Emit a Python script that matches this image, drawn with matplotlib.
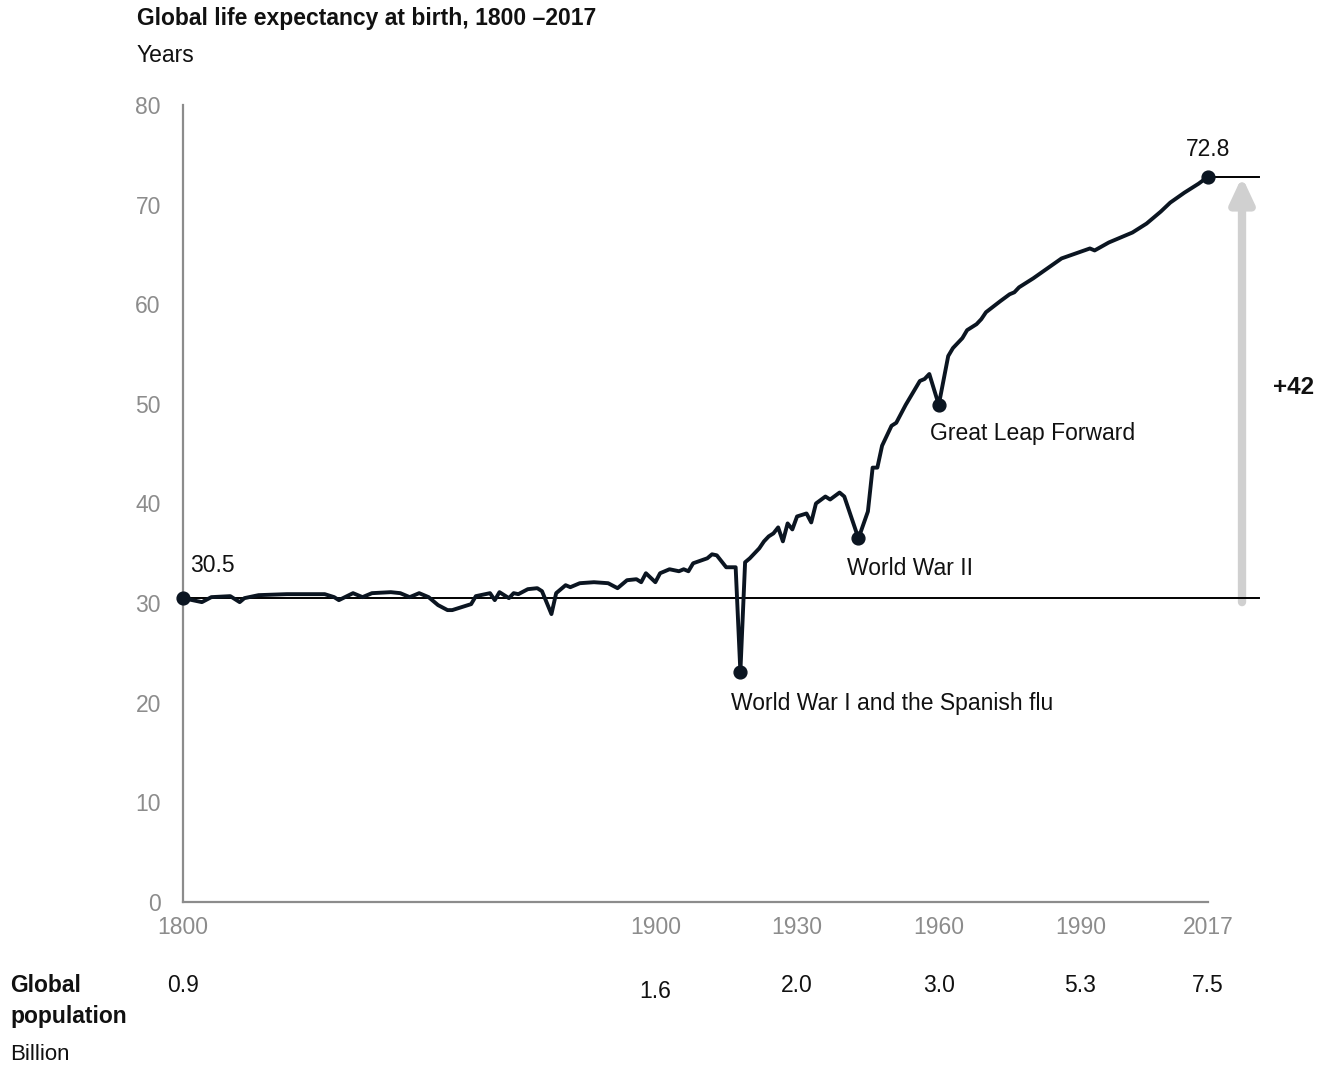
import matplotlib
matplotlib.use("Agg")
import matplotlib.pyplot as plt
from matplotlib.transforms import blended_transform_factory

plt.rcParams["font.family"] = ["Liberation Sans", "DejaVu Sans"]

# Global life expectancy at birth (years)
years = [1800, 1802, 1804, 1806, 1810, 1812, 1813, 1816, 1822, 1830, 1832, 1833,
         1836, 1838, 1840, 1844, 1846, 1848, 1850, 1852, 1854, 1856, 1857, 1859,
         1861, 1862, 1865, 1866, 1867, 1869, 1870, 1871, 1873, 1875, 1876, 1878,
         1879, 1881, 1882, 1884, 1887, 1890, 1892, 1894, 1896, 1897, 1898, 1900,
         1901, 1903, 1905, 1906, 1907, 1908, 1911, 1912, 1913, 1915, 1917, 1918,
         1919, 1920, 1922, 1923, 1924, 1925, 1926, 1927, 1928, 1929, 1930, 1932,
         1933, 1934, 1936, 1937, 1939, 1940, 1943, 1945, 1946, 1947, 1948, 1949,
         1950, 1951, 1952, 1953, 1955, 1956, 1957, 1958, 1960, 1962, 1963, 1965,
         1966, 1968, 1969, 1970, 1973, 1975, 1976, 1977, 1980, 1983, 1986, 1989,
         1992, 1993, 1996, 1998, 2001, 2004, 2007, 2009, 2012, 2015, 2017]
life_exp = [30.5, 30.3, 30.1, 30.6, 30.7, 30.1, 30.5, 30.8, 30.9, 30.9, 30.6, 30.3,
            31.0, 30.6, 31.0, 31.1, 31.0, 30.6, 31.0, 30.6, 29.8, 29.3, 29.3, 29.6,
            29.9, 30.7, 31.0, 30.3, 31.1, 30.5, 31.0, 30.9, 31.4, 31.5, 31.2, 28.9,
            31.0, 31.8, 31.6, 32.0, 32.1, 32.0, 31.5, 32.3, 32.4, 32.1, 33.0, 32.1,
            33.0, 33.4, 33.2, 33.4, 33.2, 34.0, 34.5, 34.9, 34.8, 33.6, 33.6, 23.1,
            34.1, 34.5, 35.5, 36.2, 36.7, 37.0, 37.6, 36.2, 38.0, 37.4, 38.7, 39.0,
            38.1, 40.0, 40.7, 40.4, 41.1, 40.7, 36.5, 39.2, 43.6, 43.6, 45.8, 46.8,
            47.8, 48.1, 49.0, 49.9, 51.5, 52.3, 52.5, 53.0, 49.9, 54.8, 55.6, 56.6,
            57.4, 58.0, 58.5, 59.2, 60.3, 61.0, 61.2, 61.7, 62.6, 63.6, 64.6, 65.1,
            65.6, 65.4, 66.2, 66.6, 67.2, 68.1, 69.3, 70.2, 71.2, 72.1, 72.8]

# Highlighted points
marker_years = [1800, 1918, 1943, 1960, 2017]
marker_values = [30.5, 23.1, 36.5, 49.9, 72.8]

start_value = 30.5
end_value = 72.8
gain_label = "+42"

# X axis ticks and population row (billions)
xticks = [1800, 1900, 1930, 1960, 1990, 2017]
pop_years = [1800, 1900, 1930, 1960, 1990, 2017]
pop_labels = ["0.9", "1.6", "2.0", "3.0", "5.3", "7.5"]
yticks = [0, 10, 20, 30, 40, 50, 60, 70, 80]

W, H = 1329, 1066
fig = plt.figure(figsize=(W / 100, H / 100), dpi=100)
ax = fig.add_axes([183 / W, 1 - 902 / H, (1208 - 183) / W, (902 - 105) / H])

line_color = "#0b1521"
grey = "#8c8c8c"
ink = "#111111"

ax.set_xlim(1800, 2017)
ax.set_ylim(0, 80)

# Reference lines at the start and end values, extending past the plot
ax.plot([1800, 2027.7], [start_value, start_value], color="black", lw=1.4,
        clip_on=False, zorder=2)
ax.plot([2017, 2027.7], [end_value, end_value], color="black", lw=1.4,
        clip_on=False, zorder=2)

# Gain arrow
ax.annotate("", xy=(2024.2, end_value), xytext=(2024.2, start_value - 0.4),
            arrowprops=dict(arrowstyle="-|>,head_length=1.5,head_width=0.7",
                            color="#d0d0d0", lw=6, shrinkA=0, shrinkB=0),
            annotation_clip=False, zorder=1)

ax.plot(years, life_exp, color=line_color, lw=2.8, solid_joinstyle="round",
        zorder=3, clip_on=False)
ax.scatter(marker_years, marker_values, s=85, color=line_color, zorder=4,
           clip_on=False)

for side in ["top", "right"]:
    ax.spines[side].set_visible(False)
for side in ["left", "bottom"]:
    ax.spines[side].set_color(grey)
    ax.spines[side].set_linewidth(1.6)

ax.set_xticks(xticks)
ax.set_xticklabels([str(x) for x in xticks])
ax.set_yticks(yticks)
ax.tick_params(axis="both", length=0, colors=grey, labelsize=16.5)
ax.tick_params(axis="y", pad=16)
ax.tick_params(axis="x", pad=10)

# Annotations
txt_kw = dict(fontsize=16.5, color=ink)
ax.text(1801.5, 32.6, f"{start_value}", ha="left", va="bottom", **txt_kw)
ax.text(2017, 74.4, f"{end_value}", ha="center", va="bottom", **txt_kw)
ax.text(1916.0, 19.9, "World War I and the Spanish flu", ha="left", va="center", **txt_kw)
ax.text(1940.6, 33.5, "World War II", ha="left", va="center", **txt_kw)
ax.text(1958.1, 47.0, "Great Leap Forward", ha="left", va="center", **txt_kw)
ax.text(2030.8, 51.6, gain_label, ha="left", va="center", fontsize=17.5,
        fontweight="bold", color=ink)

# Title block
fig.text(137 / W, 1 - 18 / H, "Global life expectancy at birth, 1800 –2017",
         ha="left", va="center", fontsize=16.5, fontweight="bold", color=ink)
fig.text(137 / W, 1 - 56 / H, "Years", ha="left", va="center", fontsize=16.5,
         color=ink)

# Population row
fig.text(10 / W, 1 - 985 / H, "Global", ha="left", va="center", fontsize=16.5,
         fontweight="bold", color=ink)
fig.text(10 / W, 1 - 1016 / H, "population", ha="left", va="center", fontsize=16.5,
         fontweight="bold", color=ink)
fig.text(10 / W, 1 - 1054 / H, "Billion", ha="left", va="center", fontsize=16,
         color=ink)
trans = blended_transform_factory(ax.transData, fig.transFigure)
for yr, lab in zip(pop_years, pop_labels):
    ypix = 991 if yr == 1900 else 985
    ax.text(yr, 1 - ypix / H, lab, transform=trans, ha="center", va="center",
            fontsize=16.5, color=ink)

fig.savefig("out.png", dpi=100, facecolor="white")
